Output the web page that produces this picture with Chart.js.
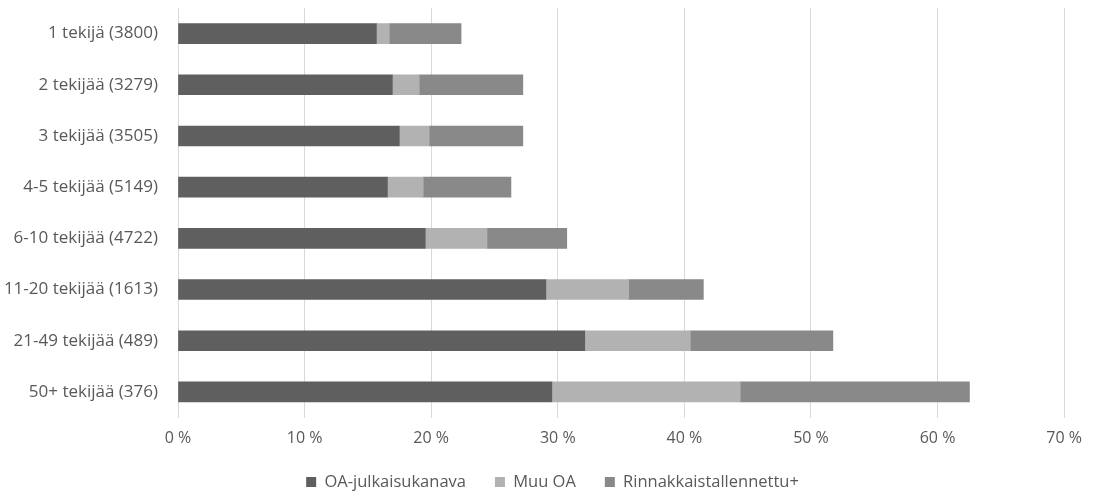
<!DOCTYPE html>
<html>
<head>
<meta charset="utf-8">
<script src="https://cdn.jsdelivr.net/npm/chart.js@4"></script>
<style>
  html, body { margin: 0; padding: 0; background: #ffffff; }
  #wrap { width: 1093px; height: 494px; position: relative; }
</style>
</head>
<body>
<div id="wrap"><canvas id="c" width="1093" height="494"></canvas></div>
<script>
const categories = ["1 tekijä (3800)", "2 tekijää (3279)", "3 tekijää (3505)", "4-5 tekijää (5149)", "6-10 tekijää (4722)", "11-20 tekijää (1613)", "21-49 tekijää (489)", "50+ tekijää (376)"];
const seriesNames = ["OA-julkaisukanava", "Muu OA", "Rinnakkaistallennettu+"];
const oaJulkaisukanava = [15.67, 16.93, 17.48, 16.54, 19.53, 29.06, 32.13, 29.53];
const muuOA = [1.02, 2.13, 2.36, 2.83, 4.88, 6.53, 8.34, 14.88];
const rinnakkais = [5.67, 8.18, 7.40, 6.93, 6.30, 5.91, 11.26, 18.11];
const xTicks = [0, 10, 20, 30, 40, 50, 60, 70];

const FONT = "'Open Sans', sans-serif";
const TEXT = "#595959";

new Chart(document.getElementById('c'), {
  type: 'bar',
  data: {
    labels: categories,
    datasets: [
      { label: seriesNames[0], data: oaJulkaisukanava, backgroundColor: '#5f5f5f' },
      { label: seriesNames[1], data: muuOA, backgroundColor: '#b2b2b2' },
      { label: seriesNames[2], data: rinnakkais, backgroundColor: '#898989' }
    ]
  },
  options: {
    indexAxis: 'y',
    responsive: false,
    animation: false,
    maintainAspectRatio: false,
    datasets: { bar: { barThickness: 20 } },
    layout: { padding: { top: 8, right: 26, left: 38, bottom: -6.25 } },
    scales: {
      x: {
        stacked: true,
        min: 0, max: 70,
        afterBuildTicks: (axis) => { axis.ticks = xTicks.map(v => ({ value: v })); },
        afterFit: (axis) => {
          axis.height = 27.25;
          axis._computeLabelArea = () => undefined;
        },
        border: { display: false },
        grid: { color: '#d9d9d9', lineWidth: 1, drawTicks: false },
        ticks: {
          padding: 11,
          color: TEXT,
          font: { family: FONT, size: 16 },
          callback: (v) => v + ' %'
        }
      },
      y: {
        stacked: true,
        afterFit: (axis) => {
          axis.width = 140;
          axis.paddingTop = 0;
          axis.paddingBottom = 0;
          axis._computeLabelArea = () => undefined;
        },
        border: { display: false },
        grid: { display: false, drawTicks: false },
        ticks: {
          padding: 20,
          color: TEXT,
          font: { family: FONT, size: 17 }
        }
      }
    },
    plugins: {
      legend: {
        position: 'bottom',
        labels: {
          boxWidth: 10,
          boxHeight: 10,
          padding: 29,
          color: TEXT,
          font: { family: FONT, size: 16.5 }
        }
      },
      tooltip: { enabled: false }
    }
  }
});
</script>
</body>
</html>
